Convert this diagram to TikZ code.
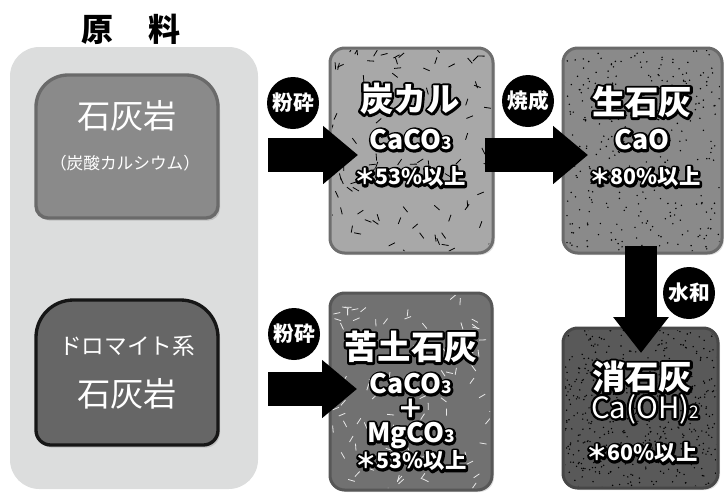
\documentclass[tikz,border=0pt]{standalone}
\usepackage{fontspec}
\newfontfamily\jp{Noto Sans CJK JP}
\usetikzlibrary{calc,shadows,arrows.meta}
\definecolor{panelgray}{HTML}{DCDDDD}
\definecolor{rockA}{HTML}{8A8A8A}
\definecolor{rockAline}{HTML}{6A6A6A}
\definecolor{rockB}{HTML}{666666}
\definecolor{rockBline}{HTML}{161616}
\definecolor{tankal}{HTML}{A8A8A8}
\definecolor{tankalline}{HTML}{6E6E6E}
\definecolor{seisek}{HTML}{8A8A8A}
\definecolor{seisekline}{HTML}{6A6A6A}
\definecolor{kudo}{HTML}{717171}
\definecolor{kudoline}{HTML}{575757}
\definecolor{shoseki}{HTML}{595959}
\definecolor{shosekiline}{HTML}{474747}
\definecolor{dashwhite}{HTML}{E8E8E8}

\newcommand\ftitle{\jp\bfseries\fontsize{25}{25}\selectfont}
\newcommand\fform{\jp\bfseries\fontsize{20}{20}\selectfont}
\newcommand\fformr{\jp\fontsize{22}{22}\selectfont}
\newcommand\fpct{\jp\bfseries\fontsize{16}{16}\selectfont}
\newcommand\fsub[1]{{\fontsize{13}{13}\selectfont #1}}

% stroked (outline) rendering of text
\newcommand\strk[1]{\special{pdf:literal direct 2 Tr 3.6 w 1 j}#1\special{pdf:literal direct 0 Tr}}

\newcommand\olt[4]{% name, position, font, text
  \node[font=#3,text=black,inner sep=0pt] (#1o) at (#2) {\strk{#4}};%
  \node[font=#3,text=white,inner sep=0pt] (#1) at (#2) {#4};}

\newcommand\dashfill[6]{% x0 y0 w h n color
  \foreach \i in {1,...,#5}{%
    \pgfmathsetmacro\xx{#1+#3*rnd}%
    \pgfmathsetmacro\yy{#2+#4*rnd}%
    \pgfmathsetmacro\aa{360*rnd}%
    \draw[#6, line width=0.6pt] (\xx,\yy) -- ++(\aa:7);}}

\newcommand\speckfill[5]{% x0 y0 w h n
  \foreach \i in {1,...,#5}{%
    \pgfmathsetmacro\xx{#1+#3*rnd}%
    \pgfmathsetmacro\yy{#2+#4*rnd}%
    \fill[black] (\xx,\yy) circle (0.6pt);}}

\tikzset{
  bigarrow/.style={line width=25.5pt, -{Triangle[length=26.25pt,width=42pt]}},
  downarrow/.style={line width=24pt, -{Triangle[length=27pt,width=40pt]}},
  tag/.style={circle, fill=black, text=white, minimum size=39pt, inner sep=0pt,
    font=\jp\bfseries\fontsize{15.5}{15.5}\selectfont},
  prodbox/.style={rectangle, rounded corners=11pt, line width=2.25pt,
    drop shadow={opacity=0.25, shadow xshift=1.5pt, shadow yshift=-1.5pt}},
  rockshadow/.style={drop shadow={opacity=0.3, shadow xshift=1.5pt, shadow yshift=-2pt}},
}

\begin{document}
\begin{tikzpicture}[x=0.75pt,y=-0.75pt]
\pgfmathsetseed{4242}
\useasboundingbox (0,0) rectangle (724,497);

% raw material panel
\node[fill=panelgray, rounded corners=22pt, minimum width=186pt, minimum height=331.5pt, inner sep=0pt] (panel) at (134,268) {};
\node[font=\jp\bfseries\fontsize{24}{24}\selectfont] (title) at (131,29) {原\hspace{1.1em}料};

% limestone box
\path[rockshadow, fill=rockA, draw=rockAline, line width=2.5pt]
  (36,146) [rounded corners=24pt] |- (127,75) -| (218,146)
  [rounded corners=9pt] |- (127,218) -| (36,150) -- cycle;
\node[font=\jp\fontsize{25}{25}\selectfont, text=white] (rockA1) at (127,116) {石灰岩};
\node[font=\jp\fontsize{12.5}{12.5}\selectfont, text=white] (rockA2) at (125,163) {（炭酸カルシウム）};

% dolomite box
\path[rockshadow, fill=rockB, draw=rockBline, line width=2.5pt]
  (36,372) [rounded corners=28pt] |- (127,300) -| (218,372)
  [rounded corners=11pt] |- (127,445) -| (36,376) -- cycle;
\node[font=\jp\fontsize{17}{17}\selectfont, text=white] (rockB1) at (127,346) {ドロマイト系};
\node[font=\jp\fontsize{25}{25}\selectfont, text=white] (rockB2) at (127,394) {石灰岩};

% product boxes
\node[prodbox, fill=tankal, draw=tankalline, minimum width=122.25pt, minimum height=153.75pt] (b1) at (411.5,150.5) {};
\begin{scope}
  \clip[rounded corners=10pt] (332,50) rectangle (491,251);
  \dashfill{330}{48}{163}{205}{95}{black}
\end{scope}

\node[prodbox, fill=seisek, draw=seisekline, minimum width=119.25pt, minimum height=153.75pt] (b2) at (642.5,150.5) {};
\begin{scope}
  \clip[rounded corners=10pt] (565,50) rectangle (720,251);
  \speckfill{563}{48}{159}{205}{330}
\end{scope}

\node[prodbox, fill=kudo, draw=kudoline, minimum width=121.5pt, minimum height=147.75pt] (b3) at (411,391.5) {};
\begin{scope}
  \clip[rounded corners=10pt] (332,295) rectangle (490,488);
  \dashfill{330}{293}{162}{197}{95}{dashwhite}
\end{scope}

\node[prodbox, fill=shoseki, draw=shosekiline, minimum width=116.25pt, minimum height=120pt] (b4) at (640.5,408) {};
\begin{scope}
  \clip[rounded corners=10pt] (565,330) rectangle (716,486);
  \speckfill{563}{328}{155}{160}{480}
\end{scope}

% arrows
\coordinate (a1s) at (268,155);
\coordinate (a1t) at (358,155);
\coordinate (a2s) at (485,155);
\coordinate (a2t) at (588,155);
\coordinate (a3s) at (641,246);
\coordinate (a3t) at (641,353);
\coordinate (a4s) at (268,389);
\coordinate (a4t) at (357,389);
\draw[bigarrow] (a1s) -- (a1t);
\draw[bigarrow] (a2s) -- (a2t);
\draw[downarrow] (a3s) -- (a3t);
\draw[bigarrow] (a4s) -- (a4t);

% process tags
\node[tag] (t1) at (293,103) {粉砕};
\node[tag] (t2) at (528,101) {焼成};
\node[tag] (t3) at (689,293) {水和};
\node[tag] (t4) at (294,334) {粉砕};

% texts in product boxes
\olt{b1t}{410,99}{\ftitle}{炭カル}
\olt{b1f}{411,140}{\fform}{CaCO\fsub{3}}
\olt{b1p}{410,177}{\fpct}{＊53\%以上}

\olt{b2t}{642,102}{\ftitle}{生石灰}
\olt{b2f}{642,140}{\fform}{CaO}
\olt{b2p}{645,177}{\fpct}{＊80\%以上}

\olt{b3t}{411,347}{\ftitle}{苦土石灰}
\olt{b3f}{411,384}{\fform}{CaCO\fsub{3}}
\olt{b3x}{411,409}{\fform}{＋}
\olt{b3g}{411,436}{\fform}{MgCO\fsub{3}}
\olt{b3p}{411,461}{\fpct}{＊53\%以上}

\olt{b4t}{642,377}{\ftitle}{消石灰}
\olt{b4f}{645,409}{\fformr}{Ca(OH)\fsub{2}}
\olt{b4p}{642,453}{\fpct}{＊60\%以上}
\end{tikzpicture}
\end{document}
